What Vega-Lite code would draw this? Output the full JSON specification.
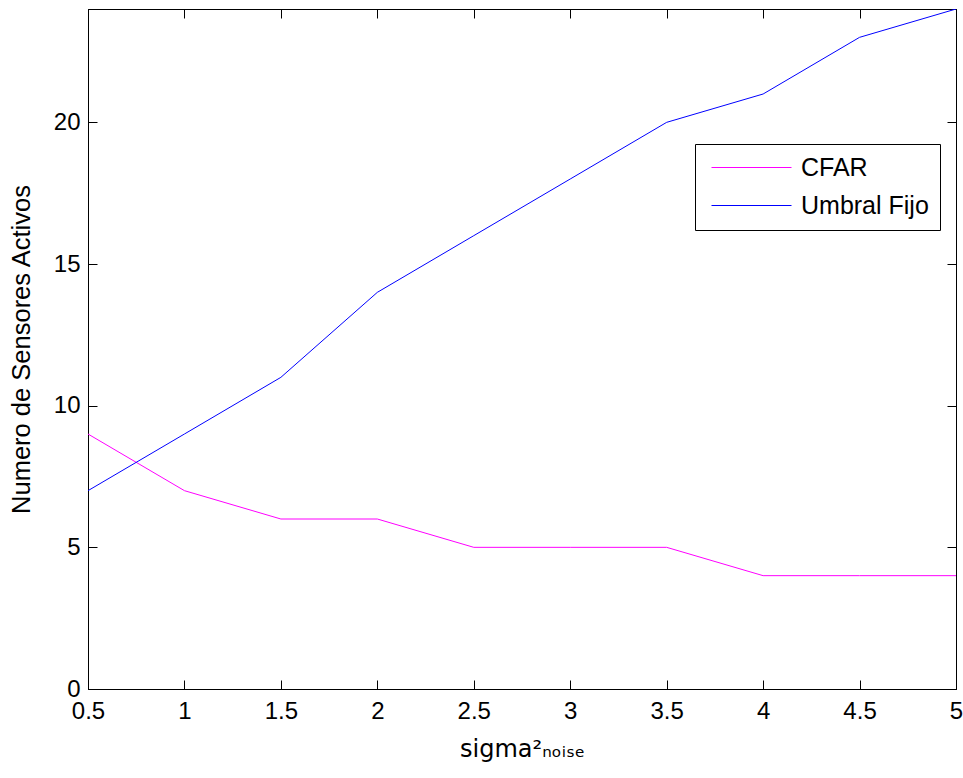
{
  "$schema": "https://vega.github.io/schema/vega-lite/v6.json",
  "width": 868,
  "height": 680,
  "autosize": {"type": "none"},
  "padding": {"left": 88, "top": 9, "right": 7, "bottom": 89},
  "background": "white",
  "config": {
    "view": {"stroke": "black", "strokeWidth": 1},
    "font": "Liberation Sans",
    "axis": {
      "grid": false,
      "domainColor": "black",
      "tickColor": "black",
      "labelColor": "black",
      "titleColor": "black",
      "labelFont": "Liberation Sans",
      "titleFont": "Liberation Sans",
      "labelFontSize": 24,
      "titleFontSize": 24,
      "titleFontWeight": "normal",
      "tickSize": -9,
      "tickWidth": 1
    }
  },
  "data": {
    "values": [
      {"x": 0.5, "y": 9, "serie": "CFAR"},
      {"x": 1, "y": 7, "serie": "CFAR"},
      {"x": 1.5, "y": 6, "serie": "CFAR"},
      {"x": 2, "y": 6, "serie": "CFAR"},
      {"x": 2.5, "y": 5, "serie": "CFAR"},
      {"x": 3, "y": 5, "serie": "CFAR"},
      {"x": 3.5, "y": 5, "serie": "CFAR"},
      {"x": 4, "y": 4, "serie": "CFAR"},
      {"x": 4.5, "y": 4, "serie": "CFAR"},
      {"x": 5, "y": 4, "serie": "CFAR"},
      {"x": 0.5, "y": 7, "serie": "Umbral Fijo"},
      {"x": 1, "y": 9, "serie": "Umbral Fijo"},
      {"x": 1.5, "y": 11, "serie": "Umbral Fijo"},
      {"x": 2, "y": 14, "serie": "Umbral Fijo"},
      {"x": 2.5, "y": 16, "serie": "Umbral Fijo"},
      {"x": 3, "y": 18, "serie": "Umbral Fijo"},
      {"x": 3.5, "y": 20, "serie": "Umbral Fijo"},
      {"x": 4, "y": 21, "serie": "Umbral Fijo"},
      {"x": 4.5, "y": 23, "serie": "Umbral Fijo"},
      {"x": 5, "y": 24, "serie": "Umbral Fijo"}
    ]
  },
  "layer": [
    {
      "mark": {"type": "line", "strokeWidth": 1, "clip": true},
      "encoding": {
        "x": {
          "field": "x", "type": "quantitative",
          "scale": {"domain": [0.5, 5], "nice": false, "zero": false},
          "axis": {
            "orient": "bottom",
            "values": [0.5, 1, 1.5, 2, 2.5, 3, 3.5, 4, 4.5, 5],
            "format": "~g",
            "labelFontSize": 24,
            "labelPadding": 19,
            "labelFlush": false,
            "labelOverlap": false,
            "title": "sigma²ₙₒᵢₛₑ",
            "titleFont": "DejaVu Sans",
            "titleFontSize": 24,
            "titlePadding": 14
          }
        },
        "y": {
          "field": "y", "type": "quantitative",
          "scale": {"domain": [0, 24], "nice": false},
          "axis": {
            "orient": "left",
            "values": [0, 5, 10, 15, 20],
            "labelFontSize": 24,
            "labelPadding": 17,
            "labelFlush": false,
            "title": "Numero de Sensores Activos",
            "titleFontSize": 25.5,
            "titlePadding": 19
          }
        },
        "color": {
          "field": "serie", "type": "nominal",
          "scale": {"domain": ["CFAR", "Umbral Fijo"], "range": ["#ff00ff", "#0000ff"]},
          "legend": {
            "title": null,
            "orient": "none",
            "legendX": 607,
            "legendY": 135,
            "symbolType": "M-1.4,0H14.6",
            "symbolSize": 100,
            "symbolStrokeWidth": 1,
            "labelFontSize": 25,
            "labelFont": "Liberation Sans",
            "labelColor": "black",
            "labelOffset": 70,
            "rowPadding": 12,
            "padding": 11,
            "strokeColor": "black",
            "fillColor": "white"
          }
        }
      }
    },
    {
      "mark": {"type": "line", "opacity": 0},
      "encoding": {
        "x": {
          "field": "x", "type": "quantitative",
          "axis": {"orient": "top", "values": [0.5, 1, 1.5, 2, 2.5, 3, 3.5, 4, 4.5, 5], "labels": false, "title": null}
        },
        "y": {
          "field": "y", "type": "quantitative",
          "axis": {"orient": "right", "values": [0, 5, 10, 15, 20], "labels": false, "title": null}
        },
        "detail": {"field": "serie"}
      }
    }
  ],
  "resolve": {"axis": {"x": "independent", "y": "independent"}}
}
